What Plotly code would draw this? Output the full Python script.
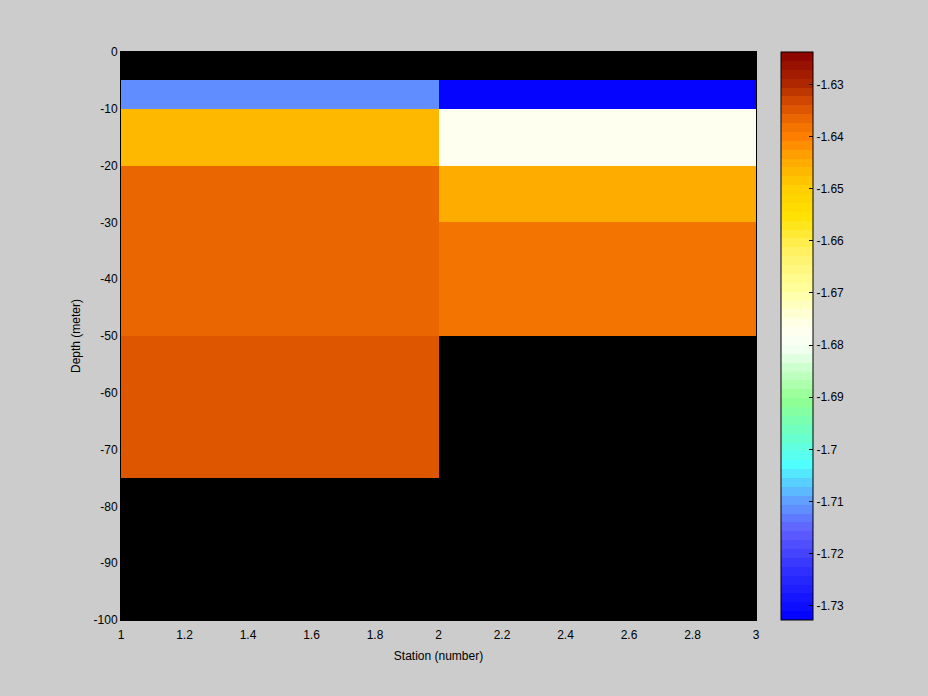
import numpy as np
import plotly.graph_objects as go

# Data
stations_edges = [1, 2, 3]
depth_edges = [0, -5, -10, -20, -30, -50, -75, -100]
# rows: depth bins (top to bottom), cols: stations
station1_values = [None, -1.7110, -1.6468, -1.6361, -1.6361, -1.6344, None]
station2_values = [None, -1.7327, -1.6777, -1.6450, -1.6376, None, None]
color_limits = [-1.7327, -1.6238]

x_ticks = [1, 1.2, 1.4, 1.6, 1.8, 2, 2.2, 2.4, 2.6, 2.8, 3]
x_tick_labels = ["1", "1.2", "1.4", "1.6", "1.8", "2", "2.2", "2.4", "2.6", "2.8", "3"]
y_ticks = [0, -10, -20, -30, -40, -50, -60, -70, -80, -90, -100]
y_tick_labels = ["0", "-10", "-20", "-30", "-40", "-50", "-60", "-70", "-80", "-90", "-100"]
cb_ticks = [-1.73, -1.72, -1.71, -1.70, -1.69, -1.68, -1.67, -1.66, -1.65, -1.64, -1.63]
cb_tick_labels = ["-1.73", "-1.72", "-1.71", "-1.7", "-1.69", "-1.68", "-1.67", "-1.66", "-1.65", "-1.64", "-1.63"]

# Colormap anchors (fraction from bottom, color)
anchors = [
    (0.000, (0x00, 0x00, 0xFF)),
    (0.088, (0x30, 0x30, 0xFF)),
    (0.158, (0x60, 0x60, 0xFF)),
    (0.211, (0x60, 0xA0, 0xFF)),
    (0.273, (0x50, 0xFF, 0xFF)),
    (0.335, (0x70, 0xFF, 0xC0)),
    (0.387, (0x90, 0xFF, 0x90)),
    (0.440, (0xC8, 0xFF, 0xC8)),
    (0.475, (0xF0, 0xFF, 0xF0)),
    (0.500, (0xFF, 0xFF, 0xF6)),
    (0.528, (0xFF, 0xFF, 0xE0)),
    (0.581, (0xFF, 0xFF, 0xA0)),
    (0.651, (0xFF, 0xF0, 0x60)),
    (0.713, (0xFF, 0xE0, 0x00)),
    (0.757, (0xFF, 0xD0, 0x00)),
    (0.810, (0xFF, 0xA8, 0x00)),
    (0.850, (0xFF, 0x80, 0x00)),
    (0.873, (0xF0, 0x70, 0x00)),
    (0.889, (0xE6, 0x60, 0x00)),
    (0.905, (0xD8, 0x50, 0x00)),
    (0.921, (0xC8, 0x40, 0x00)),
    (0.944, (0xB0, 0x28, 0x00)),
    (1.000, (0x88, 0x00, 0x00)),
]
n_levels = 64
af = np.array([a[0] for a in anchors])
ac = np.array([a[1] for a in anchors], dtype=float)
colorscale = []
for i in range(n_levels):
    c = (i + 0.5) / n_levels
    rgb = [int(round(np.interp(c, af, ac[:, k]))) for k in range(3)]
    col = "rgb(%d,%d,%d)" % tuple(rgb)
    colorscale.append([i / n_levels, col])
    colorscale.append([(i + 1) / n_levels, col])

z = [[s1, s2] for s1, s2 in zip(station1_values, station2_values)]

font = dict(family="Liberation Sans, Arial, sans-serif", size=12, color="black")

fig = go.Figure(go.Heatmap(
    x=stations_edges,
    y=depth_edges,
    z=z,
    zmin=color_limits[0],
    zmax=color_limits[1],
    colorscale=colorscale,
    hoverongaps=False,
    colorbar=dict(
        x=(781 - 121) / 635,
        xanchor="left",
        y=0.5,
        yanchor="middle",
        len=1,
        lenmode="fraction",
        thickness=32,
        thicknessmode="pixels",
        outlinecolor="black",
        outlinewidth=1,
        ticks="inside",
        ticklen=4,
        tickcolor="black",
        tickvals=cb_ticks,
        ticktext=cb_tick_labels,
        tickfont=font,
        xpad=0,
        ypad=0,
    ),
))

fig.update_layout(
    width=928,
    height=696,
    paper_bgcolor="#CCCCCC",
    plot_bgcolor="black",
    margin=dict(l=121, r=172, t=52, b=76),
    font=font,
    showlegend=False,
)
fig.update_xaxes(
    range=[1, 3],
    tickvals=x_ticks,
    ticktext=x_tick_labels,
    ticks="",
    ticklabelstandoff=4,
    showgrid=False,
    zeroline=False,
    showline=True,
    linecolor="black",
    mirror=True,
    title=dict(text="Station (number)", font=font, standoff=10),
    tickfont=font,
)
fig.update_yaxes(
    range=[-100, 0],
    tickvals=y_ticks,
    ticktext=y_tick_labels,
    ticks="",
    showgrid=False,
    zeroline=False,
    showline=True,
    linecolor="black",
    mirror=True,
    title=dict(text="Depth (meter)", font=font, standoff=10),
    tickfont=font,
)

fig.write_html(
    "out.html",
    config={"displayModeBar": False},
    post_script="document.body.style.margin='0';document.body.style.background='#CCCCCC';",
)
